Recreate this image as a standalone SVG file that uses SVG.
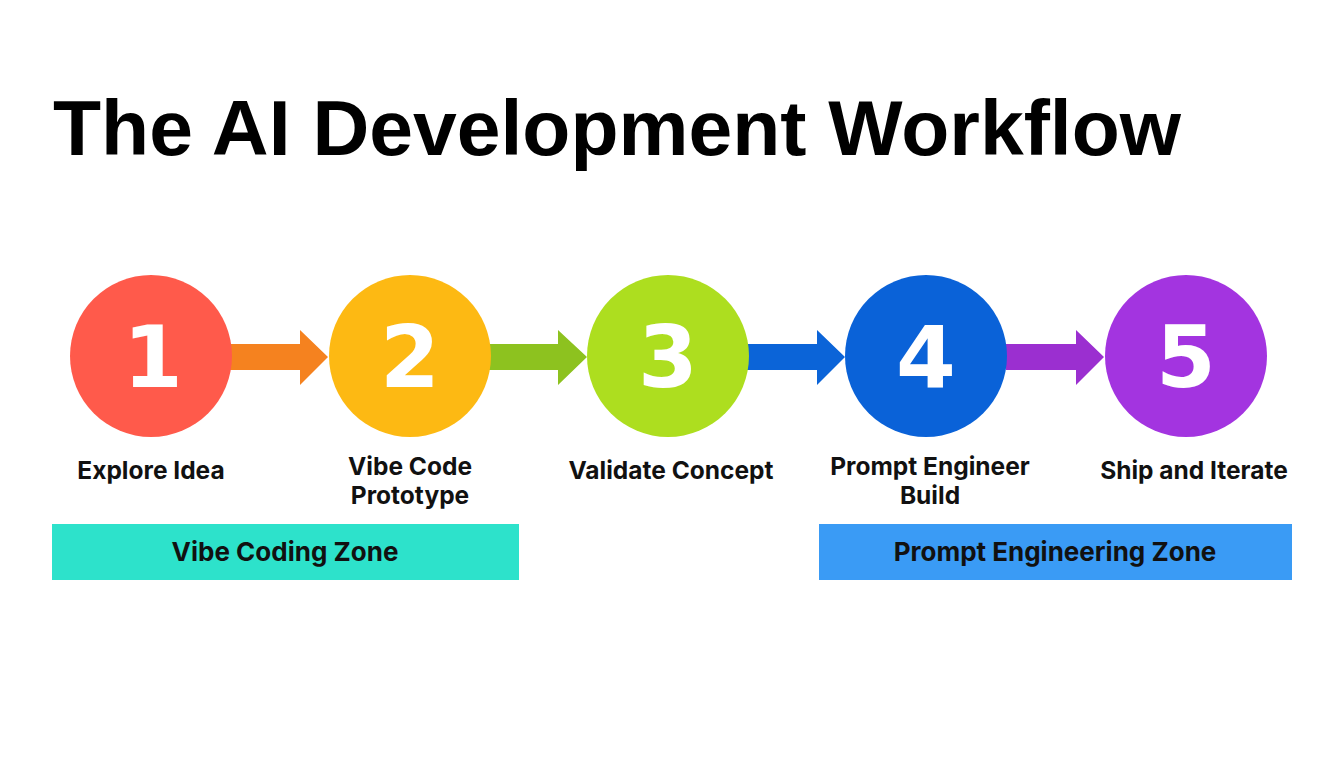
<svg xmlns="http://www.w3.org/2000/svg" width="1344" height="768" viewBox="0 0 1344 768">
<style>
.title{font-family:"Liberation Sans",Arial,sans-serif;font-weight:700;font-size:78px;fill:#000}
.num{font-family:"DejaVu Sans",sans-serif;font-weight:700;font-size:86px;fill:#fff;text-anchor:middle}
.lbl{font-family:Inter,"Liberation Sans",sans-serif;font-weight:700;font-size:24.5px;fill:#111;text-anchor:middle}
.zone{font-family:Inter,"Liberation Sans",sans-serif;font-weight:700;font-size:26px;fill:#111;text-anchor:middle}
</style>
<rect width="1344" height="768" fill="#fff"/>
<text class="title" x="53" y="155" textLength="1128" lengthAdjust="spacingAndGlyphs">The AI Development Workflow</text>
<g id="connectors">
<path d="M230 344 H300 V330 L328 357 L300 385 V370 H230 Z" fill="#F5821F"/>
<path d="M489 344 H558 V330 L587 357 L558 385 V370 H489 Z" fill="#8DC21F"/>
<path d="M747 344 H817 V330 L845 357 L817 385 V370 H747 Z" fill="#0B64D8"/>
<path d="M1006 344 H1076 V330 L1104 357 L1076 385 V370 H1006 Z" fill="#9B2FD0"/>
</g>
<g id="step1">
<circle cx="151" cy="356" r="81" fill="#FF5A4B"/>
<text class="num" x="153" y="387">1</text>
<text class="lbl" x="151" y="479">Explore Idea</text>
</g>
<g id="step2">
<circle cx="410" cy="356" r="81" fill="#FDB913"/>
<text class="num" x="410" y="387">2</text>
<text class="lbl" x="410" y="475">Vibe Code</text>
<text class="lbl" x="410" y="504">Prototype</text>
</g>
<g id="step3">
<circle cx="668" cy="356" r="81" fill="#ADDE1F"/>
<text class="num" x="668" y="387">3</text>
<text class="lbl" x="671" y="479">Validate Concept</text>
</g>
<g id="step4">
<circle cx="926" cy="356" r="81" fill="#0A62D8"/>
<text class="num" x="926" y="387">4</text>
<text class="lbl" x="930" y="475">Prompt Engineer</text>
<text class="lbl" x="930" y="504">Build</text>
</g>
<g id="step5">
<circle cx="1186" cy="356" r="81" fill="#A334E0"/>
<text class="num" x="1186" y="387">5</text>
<text class="lbl" x="1194" y="479">Ship and Iterate</text>
</g>
<g id="zone-vibe">
<rect x="52" y="524" width="467" height="56" fill="#2DE2CB"/>
<text class="zone" x="285" y="561">Vibe Coding Zone</text>
</g>
<g id="zone-prompt">
<rect x="819" y="524" width="473" height="56" fill="#3A9BF5"/>
<text class="zone" x="1055" y="561">Prompt Engineering Zone</text>
</g>
</svg>
